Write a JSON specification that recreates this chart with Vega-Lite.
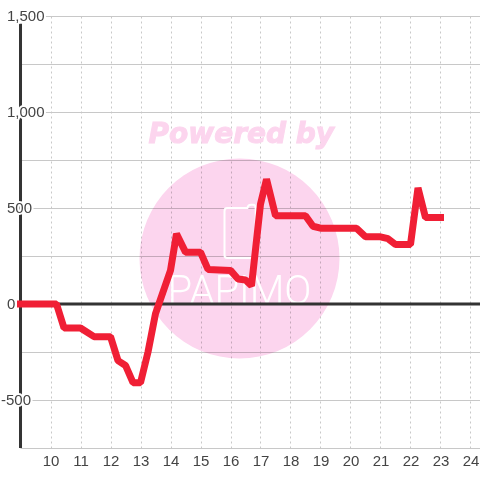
{"$schema":"https://vega.github.io/schema/vega-lite/v6.json","width":460,"height":432,"autosize":"none","padding":{"left":20,"top":16,"right":0,"bottom":32},"background":"white","config":{"view":{"stroke":null},"axisX":{"labelOverlap":false,"grid":true,"gridColor":"#c8c8c8","gridDash":[2,3],"gridWidth":1,"domain":false,"ticks":false,"labelFont":"Liberation Sans","labelFontSize":15,"labelColor":"#444","labelPadding":5,"labelFlush":false},"axisY":{"grid":true,"gridColor":"#c8c8c8","gridWidth":1,"domain":false,"ticks":false,"labels":false}},
"datasets":{"series":[{"h":9,"v":0},{"h":10.2,"v":0},{"h":10.45,"v":-125},{"h":11,"v":-125},{"h":11.45,"v":-170},{"h":12,"v":-170},{"h":12.25,"v":-295},{"h":12.5,"v":-320},{"h":12.75,"v":-410},{"h":13,"v":-410},{"h":13.25,"v":-250},{"h":13.5,"v":-50},{"h":14,"v":175},{"h":14.2,"v":365},{"h":14.5,"v":270},{"h":15,"v":270},{"h":15.25,"v":180},{"h":16,"v":175},{"h":16.25,"v":130},{"h":16.5,"v":125},{"h":16.7,"v":95},{"h":17,"v":520},{"h":17.2,"v":650},{"h":17.5,"v":460},{"h":18.5,"v":460},{"h":18.75,"v":405},{"h":19,"v":395},{"h":20.2,"v":395},{"h":20.5,"v":350},{"h":21,"v":350},{"h":21.25,"v":340},{"h":21.5,"v":310},{"h":22,"v":310},{"h":22.25,"v":605},{"h":22.5,"v":450},{"h":23,"v":450}],
"labels":[{"y":1500,"t":"1,500"},{"y":1000,"t":"1,000"},{"y":500,"t":"500"},{"y":0,"t":"0"}],
"neg":[{"y":-500,"t":"-500"}]},
"layer":[
{"data":{"values":[{"h":16.3,"v":237}]},"mark":{"type":"point","filled":true,"shape":"circle","size":40000,"color":"#fcd5ee","opacity":1,"blend":"multiply","clip":false},"encoding":{"x":{"field":"h","type":"quantitative","scale":{"domain":[8.983,24.317],"nice":false,"zero":false},"title":null,"axis":{"values":[10,11,12,13,14,15,16,17,18,19,20,21,22,23,24]}},"y":{"field":"v","type":"quantitative","scale":{"domain":[-750,1500],"nice":false,"zero":false},"title":null,"axis":{"values":[1500,1250,1000,750,500,250,0,-250,-500,-750]}}}},
{"data":{"values":[{"h":16.36,"v":880,"t":"Powered by"}]},"mark":{"type":"text","font":"DejaVu Sans","fontWeight":"bold","fontStyle":"italic","fontSize":28,"color":"#fcd5ee","stroke":"#fcd5ee","strokeWidth":1},"encoding":{"x":{"field":"h","type":"quantitative","title":null,"axis":{"values":[10,11,12,13,14,15,16,17,18,19,20,21,22,23,24]}},"y":{"field":"v","type":"quantitative","title":null,"axis":{"values":[1500,1250,1000,750,500,250,0,-250,-500,-750]}},"text":{"field":"t"}}},
{"data":{"values":[{"h":16.3,"v":65,"t":"PAPIMO"}]},"mark":{"type":"text","font":"Roboto","fontWeight":300,"fontSize":40,"color":"white"},"encoding":{"x":{"field":"h","type":"quantitative","title":null,"axis":{"values":[10,11,12,13,14,15,16,17,18,19,20,21,22,23,24]}},"y":{"field":"v","type":"quantitative","title":null,"axis":{"values":[1500,1250,1000,750,500,250,0,-250,-500,-750]}},"text":{"field":"t"}}},
{"data":{"values":[{"h":16.32,"v":375}]},"mark":{"type":"point","shape":"M-0.5,-0.92 L0.28,-0.92 Q0.3,-1.05 0.42,-1.05 L0.5,-1.05 Q0.6,-1.05 0.6,-0.9 L0.6,0.88 Q0.6,1 0.48,1 L-0.5,1 Q-0.6,1 -0.6,0.88 L-0.6,-0.8 Q-0.6,-0.92 -0.5,-0.92 Z","size":2704,"filled":false,"stroke":"white","strokeWidth":2,"opacity":1},"encoding":{"x":{"field":"h","type":"quantitative","title":null,"axis":{"values":[10,11,12,13,14,15,16,17,18,19,20,21,22,23,24]}},"y":{"field":"v","type":"quantitative","title":null,"axis":{"values":[1500,1250,1000,750,500,250,0,-250,-500,-750]}}}},
{"data":{"values":[{"h":9,"v":1460,"v2":-750}]},"mark":{"type":"rule","color":"#333","strokeWidth":3},"encoding":{"x":{"field":"h","type":"quantitative","title":null,"axis":{"values":[10,11,12,13,14,15,16,17,18,19,20,21,22,23,24]}},"y":{"field":"v","type":"quantitative","title":null,"axis":{"values":[1500,1250,1000,750,500,250,0,-250,-500,-750]}},"y2":{"field":"v2"}}},
{"data":{"values":[{"v":0}]},"mark":{"type":"rule","color":"#333","strokeWidth":3},"encoding":{"y":{"field":"v","type":"quantitative","title":null,"axis":{"values":[1500,1250,1000,750,500,250,0,-250,-500,-750]}}}},
{"data":{"name":"labels"},"mark":{"type":"text","align":"left","dx":-13,"font":"Liberation Sans","fontSize":15,"color":"white","stroke":"white","strokeWidth":4},"encoding":{"x":{"datum":8.983,"type":"quantitative","title":null,"axis":{"values":[10,11,12,13,14,15,16,17,18,19,20,21,22,23,24]}},"y":{"field":"y","type":"quantitative","title":null,"axis":{"values":[1500,1250,1000,750,500,250,0,-250,-500,-750]}},"text":{"field":"t"}}},
{"data":{"name":"neg"},"mark":{"type":"text","align":"right","dx":11,"font":"Liberation Sans","fontSize":15,"color":"white","stroke":"white","strokeWidth":4},"encoding":{"x":{"datum":8.983,"type":"quantitative","title":null,"axis":{"values":[10,11,12,13,14,15,16,17,18,19,20,21,22,23,24]}},"y":{"field":"y","type":"quantitative","title":null,"axis":{"values":[1500,1250,1000,750,500,250,0,-250,-500,-750]}},"text":{"field":"t"}}},
{"data":{"name":"labels"},"mark":{"type":"text","align":"left","dx":-13,"font":"Liberation Sans","fontSize":15,"color":"#444"},"encoding":{"x":{"datum":8.983,"type":"quantitative","title":null,"axis":{"values":[10,11,12,13,14,15,16,17,18,19,20,21,22,23,24]}},"y":{"field":"y","type":"quantitative","title":null,"axis":{"values":[1500,1250,1000,750,500,250,0,-250,-500,-750]}},"text":{"field":"t"}}},
{"data":{"name":"neg"},"mark":{"type":"text","align":"right","dx":11,"font":"Liberation Sans","fontSize":15,"color":"#444"},"encoding":{"x":{"datum":8.983,"type":"quantitative","title":null,"axis":{"values":[10,11,12,13,14,15,16,17,18,19,20,21,22,23,24]}},"y":{"field":"y","type":"quantitative","title":null,"axis":{"values":[1500,1250,1000,750,500,250,0,-250,-500,-750]}},"text":{"field":"t"}}},
{"data":{"name":"series"},"mark":{"type":"line","color":"#f01f35","strokeWidth":7,"strokeCap":"square","strokeJoin":"bevel"},"encoding":{"x":{"field":"h","type":"quantitative","title":null,"axis":{"values":[10,11,12,13,14,15,16,17,18,19,20,21,22,23,24]}},"y":{"field":"v","type":"quantitative","title":null,"axis":{"values":[1500,1250,1000,750,500,250,0,-250,-500,-750]}}}}
]}
